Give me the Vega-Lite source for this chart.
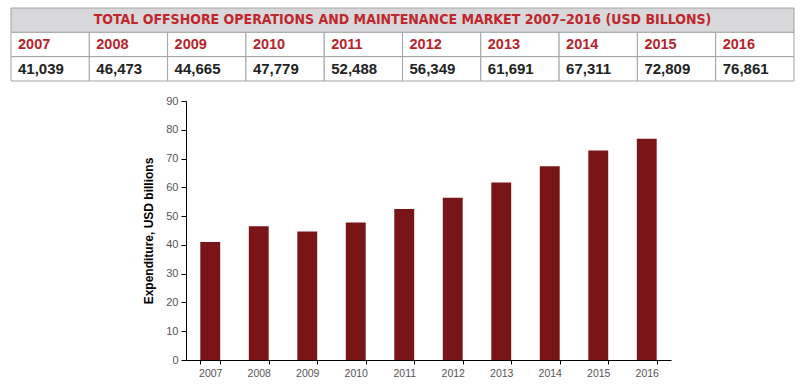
{
  "$schema": "https://vega.github.io/schema/vega-lite/v6.json",
  "padding": {"left": 10, "top": 7, "right": 6, "bottom": 0},
  "background": "white",
  "config": {"view": {"stroke": null}, "font": "Liberation Sans"},
  "datasets": {
    "market": [
      {"year": "2007", "usd": 41.039, "label": "41,039"},
      {"year": "2008", "usd": 46.473, "label": "46,473"},
      {"year": "2009", "usd": 44.665, "label": "44,665"},
      {"year": "2010", "usd": 47.779, "label": "47,779"},
      {"year": "2011", "usd": 52.488, "label": "52,488"},
      {"year": "2012", "usd": 56.349, "label": "56,349"},
      {"year": "2013", "usd": 61.691, "label": "61,691"},
      {"year": "2014", "usd": 67.311, "label": "67,311"},
      {"year": "2015", "usd": 72.809, "label": "72,809"},
      {"year": "2016", "usd": 76.861, "label": "76,861"}
    ]
  },
  "spacing": 13,
  "resolve": {"scale": {"x": "independent", "y": "independent"}},
  "vconcat": [
    {
      "width": 783,
      "height": 73,
      "layer": [
        {
          "data": {"values": [{"row": "title", "label": "TOTAL OFFSHORE OPERATIONS AND MAINTENANCE MARKET 2007–2016 (USD BILLONS)"}]},
          "mark": {"type": "rect", "fill": "#d8d8da", "stroke": "#a3a3a3", "strokeWidth": 1},
          "encoding": {
            "y": {"field": "row", "type": "nominal", "scale": {"domain": ["title", "year", "value"], "paddingInner": 0, "paddingOuter": 0}, "axis": null}
          }
        },
        {
          "data": {"values": [{"row": "title", "label": "TOTAL OFFSHORE OPERATIONS AND MAINTENANCE MARKET 2007–2016 (USD BILLONS)"}]},
          "mark": {"type": "text", "font": "DejaVu Sans Condensed", "fontWeight": "bold", "fontSize": 14, "fill": "#c0272d", "baseline": "middle", "align": "center"},
          "encoding": {
            "y": {"field": "row", "type": "nominal"},
            "text": {"field": "label"}
          }
        },
        {
          "data": {"name": "market"},
          "mark": {"type": "rect", "fill": "white", "stroke": "#a3a3a3", "strokeWidth": 1},
          "encoding": {
            "x": {"field": "year", "type": "nominal", "scale": {"paddingInner": 0, "paddingOuter": 0}, "axis": null},
            "y": {"datum": "year"}
          }
        },
        {
          "data": {"name": "market"},
          "mark": {"type": "rect", "fill": "white", "stroke": "#a3a3a3", "strokeWidth": 1},
          "encoding": {
            "x": {"field": "year", "type": "nominal"},
            "y": {"datum": "value"}
          }
        },
        {
          "data": {"name": "market"},
          "mark": {"type": "text", "fontWeight": "bold", "fontSize": 14.5, "fill": "#b8232b", "align": "left", "baseline": "middle", "dx": 7},
          "encoding": {
            "x": {"field": "year", "type": "nominal", "bandPosition": 0},
            "y": {"datum": "year"},
            "text": {"field": "year"}
          }
        },
        {
          "data": {"name": "market"},
          "mark": {"type": "text", "fontWeight": "bold", "fontSize": 15, "fill": "#222222", "align": "left", "baseline": "middle", "dx": 7},
          "encoding": {
            "x": {"field": "year", "type": "nominal", "bandPosition": 0},
            "y": {"datum": "value"},
            "text": {"field": "label"}
          }
        }
      ]
    },
    {
      "bounds": "flush",
      "spacing": 0,
      "hconcat": [
        {
          "width": 175,
          "height": 259,
          "data": {"values": []},
          "mark": {"type": "text"},
          "encoding": {}
        },
        {
          "width": 485,
          "height": 259,
          "data": {"name": "market"},
          "mark": {"type": "bar", "color": "#7a1517"},
          "encoding": {
            "x": {
              "field": "year", "type": "ordinal",
              "scale": {"paddingInner": 0.59, "paddingOuter": 0.295},
              "axis": {"title": null, "labelAngle": 0, "tickBand": "extent", "domainColor": "#000000", "tickColor": "#000000", "tickSize": 4, "labelColor": "#555555", "labelFontSize": 10.5, "labelPadding": 4}
            },
            "y": {
              "field": "usd", "type": "quantitative",
              "scale": {"domain": [0, 90], "nice": false},
              "axis": {"title": "Expenditure, USD billions", "values": [0, 10, 20, 30, 40, 50, 60, 70, 80, 90], "grid": false, "titleFontWeight": "bold", "titleFontSize": 12, "titleColor": "#000000", "titlePadding": 10, "labelColor": "#555555", "labelFontSize": 11, "tickSize": 5, "labelPadding": 3, "domainColor": "#000000", "tickColor": "#000000"}
            }
          }
        }
      ]
    }
  ]
}
